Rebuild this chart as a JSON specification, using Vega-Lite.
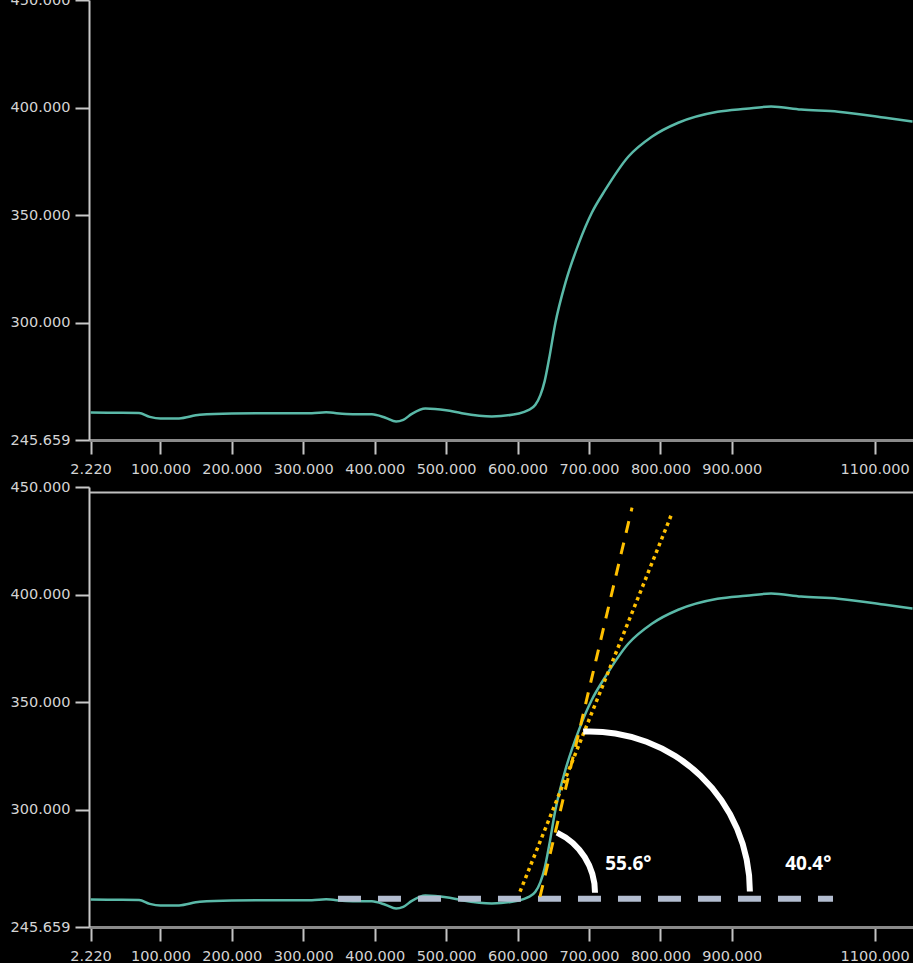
{
  "$schema": "https://vega.github.io/schema/vega-lite/v6.json",
  "background": "#000000",
  "padding": {"left": 5, "top": -8, "right": 0, "bottom": 0},
  "bounds": "flush",
  "spacing": 47,
  "config": {
    "view": {"stroke": null},
    "axisX": {
      "domainColor": "#8a8a8a", "domainWidth": 3,
      "tickColor": "#c4c4c4", "tickWidth": 2, "tickSize": 14,
      "labelColor": "#d4d4d4", "labelFont": "DejaVu Sans", "labelFontSize": 14.5,
      "labelPadding": 8, "labelOverlap": false, "labelFlush": false,
      "grid": false, "title": null, "format": ".3f"
    },
    "axisY": {
      "domainColor": "#c8c8c8", "domainWidth": 2,
      "tickColor": "#c8c8c8", "tickWidth": 2, "tickSize": 14,
      "labelColor": "#d4d4d4", "labelFont": "DejaVu Sans", "labelFontSize": 14.5,
      "labelPadding": 5, "labelOverlap": false, "labelFlush": false,
      "grid": false, "title": null, "format": ".3f", "minExtent": 84
    }
  },
  "datasets": {
    "curve": [
      {"x": 2.22, "y": 258.4}, {"x": 30, "y": 258.3}, {"x": 70, "y": 258.2},
      {"x": 85, "y": 256.4}, {"x": 100, "y": 255.6}, {"x": 126, "y": 255.7},
      {"x": 155, "y": 257.4}, {"x": 200, "y": 258.0}, {"x": 250, "y": 258.1},
      {"x": 312, "y": 258.1}, {"x": 332, "y": 258.5}, {"x": 360, "y": 257.7},
      {"x": 396, "y": 257.6}, {"x": 415, "y": 256.0}, {"x": 430, "y": 254.2},
      {"x": 440, "y": 255.0}, {"x": 452, "y": 257.8}, {"x": 471, "y": 260.3},
      {"x": 500, "y": 259.5}, {"x": 522, "y": 258.1}, {"x": 564, "y": 256.6},
      {"x": 602, "y": 258.0}, {"x": 615, "y": 259.5}, {"x": 625, "y": 262.0},
      {"x": 632, "y": 266.5}, {"x": 638, "y": 273.0}, {"x": 644, "y": 283.0},
      {"x": 653, "y": 300.0}, {"x": 667, "y": 318.6}, {"x": 686, "y": 337.2},
      {"x": 704, "y": 351.2}, {"x": 723, "y": 361.9}, {"x": 755, "y": 377.2},
      {"x": 788, "y": 386.5}, {"x": 825, "y": 393.0}, {"x": 880, "y": 398.1},
      {"x": 920, "y": 399.5}, {"x": 955, "y": 400.5}, {"x": 997, "y": 399.1},
      {"x": 1049, "y": 398.1}, {"x": 1115, "y": 395.3}, {"x": 1153, "y": 393.5}
    ]
  },
  "vconcat": [
    {
      "width": 824,
      "height": 440,
      "data": {"name": "curve"},
      "mark": {"type": "line", "color": "#5ab9a8", "strokeWidth": 2.5, "interpolate": "monotone"},
      "encoding": {
        "x": {"field": "x", "type": "quantitative", "scale": {"domain": [0, 1153.7], "nice": false, "zero": false},
              "axis": {"values": [2.22, 100, 200, 300, 400, 500, 600, 700, 800, 900, 1100]}},
        "y": {"field": "y", "type": "quantitative", "scale": {"domain": [245.659, 450], "nice": false, "zero": false},
              "axis": {"values": [245.659, 300, 350, 400, 450]}}
      }
    },
    {
      "width": 824,
      "height": 440,
      "layer": [
        {
          "data": {"name": "curve"},
          "mark": {"type": "line", "color": "#5ab9a8", "strokeWidth": 2.5, "interpolate": "monotone"},
          "encoding": {
            "x": {"field": "x", "type": "quantitative", "scale": {"domain": [0, 1153.7], "nice": false, "zero": false},
                  "axis": {"values": [2.22, 100, 200, 300, 400, 500, 600, 700, 800, 900, 1100]}},
            "y": {"field": "y", "type": "quantitative", "scale": {"domain": [245.659, 450], "nice": false, "zero": false},
                  "axis": {"values": [245.659, 300, 350, 400, 450]}}
          }
        },
        {
          "data": {"values": [{"sep": 447.4}]},
          "mark": {"type": "rule", "color": "#c0c0c0", "strokeWidth": 2},
          "encoding": {"y": {"field": "sep", "type": "quantitative"}}
        },
        {
          "data": {"values": [{"xs": 348.6, "xe": 1041.7, "level": 258.8}]},
          "mark": {"type": "rule", "color": "#b3bdd0", "strokeWidth": 6, "strokeDash": [23, 17], "strokeCap": "butt"},
          "encoding": {
            "x": {"field": "xs", "type": "quantitative"},
            "x2": {"field": "xe"},
            "y": {"field": "level", "type": "quantitative"}
          }
        },
        {
          "data": {"values": [{"xa": 631.5, "ya": 259.7, "xb": 760.3, "yb": 440.4}]},
          "mark": {"type": "rule", "color": "#ffc000", "strokeWidth": 3, "strokeDash": [12, 10], "strokeCap": "butt"},
          "encoding": {
            "x": {"field": "xa", "type": "quantitative"},
            "y": {"field": "ya", "type": "quantitative"},
            "x2": {"field": "xb"},
            "y2": {"field": "yb"}
          }
        },
        {
          "data": {"values": [{"xa": 603.5, "ya": 262.1, "xb": 814.9, "yb": 436.7}]},
          "mark": {"type": "rule", "color": "#ffc000", "strokeWidth": 3.5, "strokeDash": [3.5, 3.8], "strokeCap": "butt"},
          "encoding": {
            "x": {"field": "xa", "type": "quantitative"},
            "y": {"field": "ya", "type": "quantitative"},
            "x2": {"field": "xb"},
            "y2": {"field": "yb"}
          }
        },
        {
          "data": {"values": [{"cx": 615.5, "cy": 261.6}]},
          "mark": {"type": "arc", "color": "#ffffff", "radius": 69.4, "radius2": 63.4, "theta": 0.4416, "theta2": 1.5708},
          "encoding": {
            "x": {"field": "cx", "type": "quantitative"},
            "y": {"field": "cy", "type": "quantitative"}
          }
        },
        {
          "data": {"values": [{"cx": 701.3, "cy": 262.2}]},
          "mark": {"type": "arc", "color": "#ffffff", "radius": 163, "radius2": 157, "theta": -0.042, "theta2": 1.5708},
          "encoding": {
            "x": {"field": "cx", "type": "quantitative"},
            "y": {"field": "cy", "type": "quantitative"}
          }
        },
        {
          "data": {"values": [{"tx": 755.1, "ty": 275.1, "label": "55.6°"}, {"tx": 1007.1, "ty": 275.1, "label": "40.4°"}]},
          "mark": {"type": "text", "color": "#ffffff", "font": "Open Sans", "fontWeight": "bold", "fontSize": 19, "align": "center", "baseline": "middle"},
          "encoding": {
            "x": {"field": "tx", "type": "quantitative"},
            "y": {"field": "ty", "type": "quantitative"},
            "text": {"field": "label"}
          }
        }
      ]
    }
  ]
}
